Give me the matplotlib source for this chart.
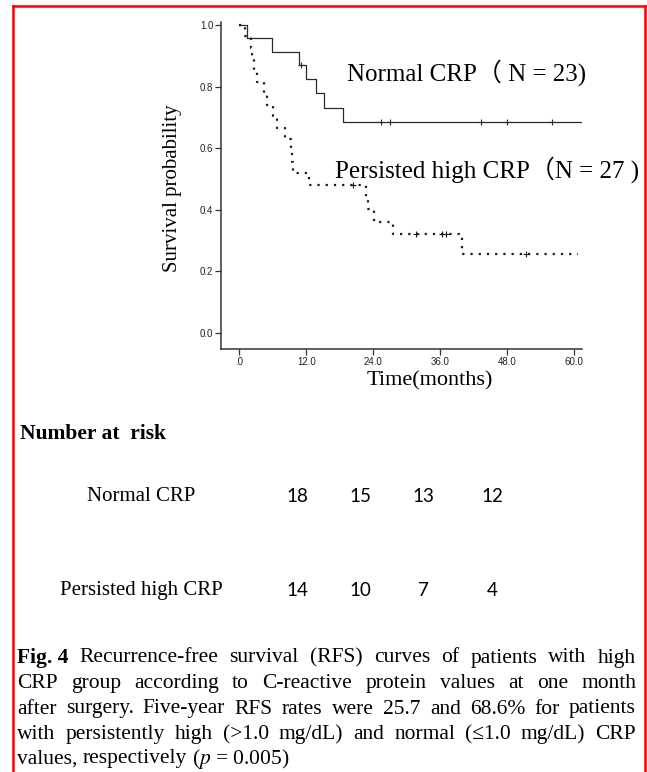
import numpy as np
import matplotlib.pyplot as plt
from matplotlib.lines import Line2D

# Kaplan-Meier steps (months, survival)
normal_t = [0, 1.3, 5.8, 10.7, 12.0, 13.7, 15.1, 18.6]
normal_s = [1.0, 0.957, 0.913, 0.870, 0.824, 0.778, 0.732, 0.686]
normal_cens = [11.0, 25.4, 27.0, 43.3, 48.0, 56.1]
normal_end = 61.5

high_t = [0, 1.0, 2.1, 2.3, 2.6, 3.2, 4.4, 5.0, 6.0, 6.8, 8.2, 9.2, 9.4, 9.6,
          12.5, 22.7, 23.0, 24.2, 27.5, 39.9]
high_s = [1.0, 0.963, 0.926, 0.889, 0.852, 0.815, 0.778, 0.741, 0.704, 0.667,
          0.630, 0.593, 0.556, 0.519, 0.481, 0.441, 0.401, 0.361, 0.321, 0.257]
high_cens = [20.4, 31.7, 36.3, 37.0, 51.3]
high_end = 60.7

x_ticks = [0, 12, 24, 36, 48, 60]
x_tick_labels = [".0", "12.0", "24.0", "36.0", "48.0", "60.0"]
y_ticks = [0.0, 0.2, 0.4, 0.6, 0.8, 1.0]
y_tick_labels = ["0.0", "0.2", "0.4", "0.6", "0.8", "1.0"]

risk_groups = ["Normal CRP", "Persisted high CRP"]
risk_normal = [18, 15, 13, 12]
risk_high = [14, 10, 7, 4]

caption = [
    [("Fig. 4", "bold"), "Recurrence-free", "survival", "(RFS)", "curves", "of", "patients", "with", "high"],
    ["CRP", "group", "according", "to", "C-reactive", "protein", "values", "at", "one", "month"],
    ["after", "surgery.", "Five-year", "RFS", "rates", "were", "25.7", "and", "68.6%", "for", "patients"],
    ["with", "persistently", "high", "(>1.0", "mg/dL)", "and", "normal", "(\u22641.0", "mg/dL)", "CRP"],
    ["values,", "respectively", "($p$ = 0.005)"],
]

plt.rcParams['mathtext.fontset'] = 'stix'
W, H = 647, 772
fig = plt.figure(figsize=(W / 100, H / 100), dpi=100)
serif = 'Liberation Serif'


def fx(px):
    return px / W


def fy(py):
    return 1 - py / H


ax = fig.add_axes([fx(221), fy(349), fx(582) - fx(221), fy(21.7) - fy(349)])


def surv_at(ts, ss, t):
    i = np.searchsorted(ts, t, side='right') - 1
    return ss[i]


# normal CRP, solid
ax.step(normal_t + [normal_end], normal_s + [normal_s[-1]], where='post',
        color='#2a2a2a', lw=0.9)
ax.plot(normal_cens, [surv_at(normal_t, normal_s, t) for t in normal_cens], '+',
        color='#2a2a2a', ms=5, mew=0.8)

# persisted high CRP, dotted
ax.step(high_t + [high_end], high_s + [high_s[-1]], where='post',
        color='#1a1a1a', lw=1.6, linestyle=(0, (1, 2.7)), dash_capstyle='butt')
ax.plot(high_cens, [surv_at(high_t, high_s, t) for t in high_cens], '+',
        color='#1a1a1a', ms=5, mew=0.8)

ax.set_xlim(-3.28, 61.42)
ax.set_ylim(-0.053, 1.011)
ax.set_xticks(x_ticks)
ax.set_xticklabels(x_tick_labels)
ax.set_yticks(y_ticks)
ax.set_yticklabels(y_tick_labels)
for s in ['top', 'right']:
    ax.spines[s].set_visible(False)
for s in ['left', 'bottom']:
    ax.spines[s].set_linewidth(1.1)
    ax.spines[s].set_color('#333333')
ax.tick_params(length=4, width=0.9, color='#333333', pad=1.5,
               labelsize=7, labelcolor='#222222')
for lab in ax.get_xticklabels() + ax.get_yticklabels():
    lab.set_family('Liberation Sans')

fig.text(fx(173), fy(188), "Survival probability", rotation=90, ha='center',
         va='center', family=serif, fontsize=15)
fig.text(fx(430), fy(381), "Time(months)", ha='center', va='center',
         family=serif, fontsize=16)

cjk = [serif, 'Noto Sans CJK JP']
fig.text(fx(347), fy(73), "Normal CRP\uff08 N = 23)", ha='left', va='center',
         family=cjk, fontsize=18)
fig.text(fx(335), fy(170), "Persisted high CRP\uff08N = 27 )", ha='left',
         va='center', family=cjk, fontsize=18)

# number at risk table
fig.text(fx(20), fy(434), "Number at  risk", ha='left', va='center',
         family=serif, fontsize=15.5, fontweight='bold')
col_x = [297, 360, 423, 492]
for row_y, name, counts in [(497, risk_groups[0], risk_normal),
                            (590, risk_groups[1], risk_high)]:
    fig.text(fx(141), fy(row_y), name, ha='center', va='center',
             family=serif, fontsize=15)
    for cx, n in zip(col_x, counts):
        fig.text(fx(cx), fy(row_y), str(n), ha='center', va='center',
                 family='Lato', fontsize=13.5)

# caption, justified between x0 and x1
renderer = fig.canvas.get_renderer()
x0, x1 = 17, 636
line_y = [658, 683.5, 709, 734.5, 759]
for k, (words, yy) in enumerate(zip(caption, line_y)):
    arts = []
    for w in words:
        weight = 'normal'
        if isinstance(w, tuple):
            w, weight = w
        arts.append(fig.text(0, fy(yy), w, ha='left', va='center',
                             family=serif, fontsize=15.5, fontweight=weight))
    widths = [a.get_window_extent(renderer).width for a in arts]
    if k < len(caption) - 1:
        gap = (x1 - x0 - sum(widths)) / (len(arts) - 1)
    else:
        gap = 5
    xx = x0
    for a, wd in zip(arts, widths):
        a.set_x(fx(xx))
        xx += wd + gap

# red frame
red = dict(color='#ff0000', lw=1.8, transform=fig.transFigure)
fig.add_artist(Line2D([fx(13), fx(13)], [0, fy(6)], **red))
fig.add_artist(Line2D([fx(13), fx(645)], [fy(6), fy(6)], **red))
fig.add_artist(Line2D([fx(645), fx(645)], [fy(6), 0], **red))

fig.savefig('out.png', dpi=100)
